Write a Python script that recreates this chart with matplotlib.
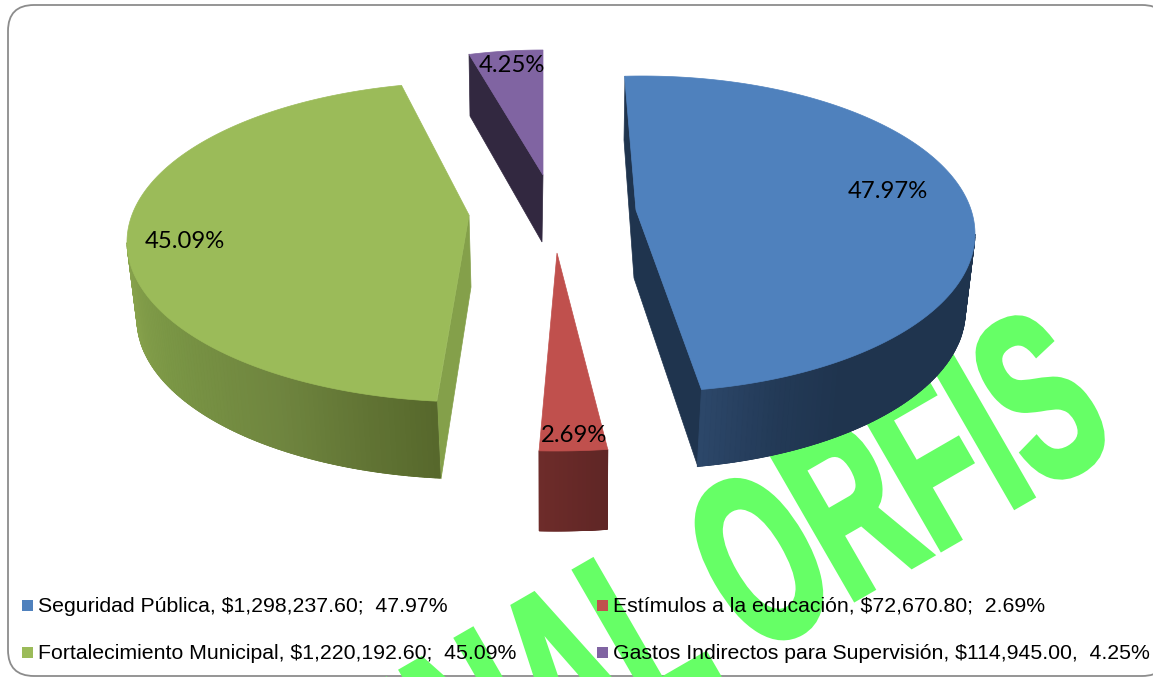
"""
Exploded 3D-look pie of the budget shares, with the green watermark behind it.
Axes are in image pixels, y pointing down.
"""

import matplotlib
matplotlib.use('Agg')
import matplotlib.pyplot as plt
import matplotlib.patheffects as pe
from matplotlib.colors import to_rgb
from matplotlib.patches import FancyBboxPatch, Rectangle
from matplotlib.transforms import Affine2D
import numpy as np

categories = ["Seguridad Pública", "Estímulos a la educación",
              "Fortalecimiento Municipal", "Gastos Indirectos para Supervisión"]
amounts = [1298237.60, 72670.80, 1220192.60, 114945.00]
amount_labels = ["$1,298,237.60;", "$72,670.80;", "$1,220,192.60;", "$114,945.00,"]
pct_labels = ["47.97%", "2.69%", "45.09%", "4.25%"]

# Flat colour of each top face
TOPS = ['#4f81bd', '#c0504d', '#9bbb59', '#8064a2']
CUTS = ['#1f344e', None, '#84a04a', '#322840']

# Hand placed per slice, the perspective is not a single ellipse:
# centre, radii, angle shift, apex, depth, bottom radius factor, bottom centre shift
# side = rim colours from left to right
slices = [
    dict(c=(642, 234), r=(333, 158), rot=-3, apex=(636, 210), depth=77, k=0.98, dx=-3,
         cut=[(625, 76), (624, 140), (634, 278), (698, 467), (702, 390), (636, 210)],
         side=['#2c4769', '#233a57', '#1f344e', '#1f344e', '#1f344e', '#1f344e', '#1f344e']),
    dict(c=(556, 253), r=(408, 198), rot=0, apex=(557, 253), depth=80, k=0.99, dx=0,
         cut=None, side=['#6e2c2a', '#5f2625']),
    dict(c=(472, 242), r=(345, 160), rot=3.5, apex=(469, 215), depth=77, k=0.98, dx=3,
         cut=[(469, 215), (471, 287), (441, 479), (437, 401)],
         side=['#8ba54e', '#7a9645', '#6f853f', '#57682c']),
    dict(c=(543, 175), r=(280, 125), rot=0, apex=(543, 175), depth=65, k=1.0, dx=0,
         cut=[(469, 54), (470, 116), (542, 242), (543, 175)], side=None),
]
pct_pos = [(888, 192), (574, 436), (185, 242), (512, 65)]
legend_pos = [(22, 605), (597, 605), (22, 652), (597, 652)]


class Squeeze(pe.AbstractPathEffect):
    # squeeze glyphs along the text direction and fatten them, the watermark font is condensed
    def __init__(self, fx, lw):
        super().__init__()
        self.fx = fx
        self.lw = lw

    def draw_path(self, renderer, gc, tpath, affine, rgbFace=None):
        gc0 = renderer.new_gc()
        gc0.copy_properties(gc)
        gc0.set_linewidth(self.lw)
        gc0.set_foreground(rgbFace)
        gc0.set_joinstyle('miter')
        renderer.draw_path(gc0, tpath, Affine2D().scale(self.fx, 1) + affine, rgbFace)
        gc0.restore()


fig = plt.figure(figsize=(11.53, 6.77), dpi=100)
ax = fig.add_axes([0, 0, 1, 1])
ax.set_xlim(0, 1153)
ax.set_ylim(677, 0)
ax.axis('off')

# Frame
ax.add_patch(FancyBboxPatch((8, 5), 1160, 671, boxstyle="round,pad=0,rounding_size=26",
                            fc='white', ec='#8c8c8c', lw=1.3, zorder=1))

# Watermark
wm = ax.text(136, 1014, "ORIGINAL ORFIS", family='Liberation Sans', weight='bold',
             fontsize=172, color='#66ff66', rotation=30, rotation_mode='anchor',
             ha='left', va='baseline', zorder=2)
wm.set_path_effects([Squeeze(0.58, 4)])

# Slices
shares = np.array(amounts) / sum(amounts)
ends = np.cumsum(shares) * 360
starts = ends - shares * 360

for i, s in enumerate(slices):
    a = np.radians(np.linspace(starts[i], ends[i], 181) + s['rot'])
    cx, cy = s['c']
    rx, ry = s['r']
    tx = cx + rx * np.sin(a)
    ty = cy - ry * np.cos(a)
    bx = cx + s['dx'] + rx * s['k'] * np.sin(a)
    by = cy - ry * np.cos(a) + s['depth']

    if s['cut']:
        pts = np.array(s['cut'])
        ax.fill(pts[:, 0], pts[:, 1], color=CUTS[i], lw=0.5, zorder=3 + i * 0.01)

    if s['side']:
        # strips for the rim, only the front half shows
        front = np.where(np.cos(a) < 0)[0]
        n = len(front) - 1
        stops = np.array([to_rgb(c) for c in s['side']])
        pos = np.linspace(0, 1, len(stops))
        order = front if tx[front[0]] < tx[front[-1]] else front[::-1]
        # solid rim underneath so the strip seams do not let white through
        ax.fill(np.r_[tx[order], bx[order[::-1]]], np.r_[ty[order], by[order[::-1]]],
                color=stops.mean(axis=0), lw=0.5, zorder=3.05 + i * 0.01)
        for j in range(n):
            p, q = order[j], order[j + 1]
            t = j / max(n - 1, 1)
            col = [np.interp(t, pos, stops[:, k]) for k in range(3)]
            ax.fill([tx[p], tx[q], bx[q], bx[p]], [ty[p], ty[q], by[q], by[p]],
                    color=col, lw=0.6, zorder=3.1 + i * 0.01)

    ax.fill(np.r_[s['apex'][0], tx], np.r_[s['apex'][1], ty], color=TOPS[i], lw=0.5,
            zorder=3.2 + i * 0.01)

# Percent labels on the slices
for label, (x, y) in zip(pct_labels, pct_pos):
    ax.text(x, y, label, family='Lato', fontsize=17.2, color='black',
            ha='center', va='center', zorder=5)

# Legend
for i, (x, y) in enumerate(legend_pos):
    ax.add_patch(Rectangle((x, y - 5.5), 11, 11, fc=TOPS[i], ec='none', zorder=5))
    label = categories[i] + ", " + amount_labels[i] + "  " + pct_labels[i]
    ax.text(x + 16, y + 1.5, label, family='Liberation Sans', fontsize=15.35, color='black',
            ha='left', va='center', zorder=5)

fig.savefig('out.png', dpi=100)
